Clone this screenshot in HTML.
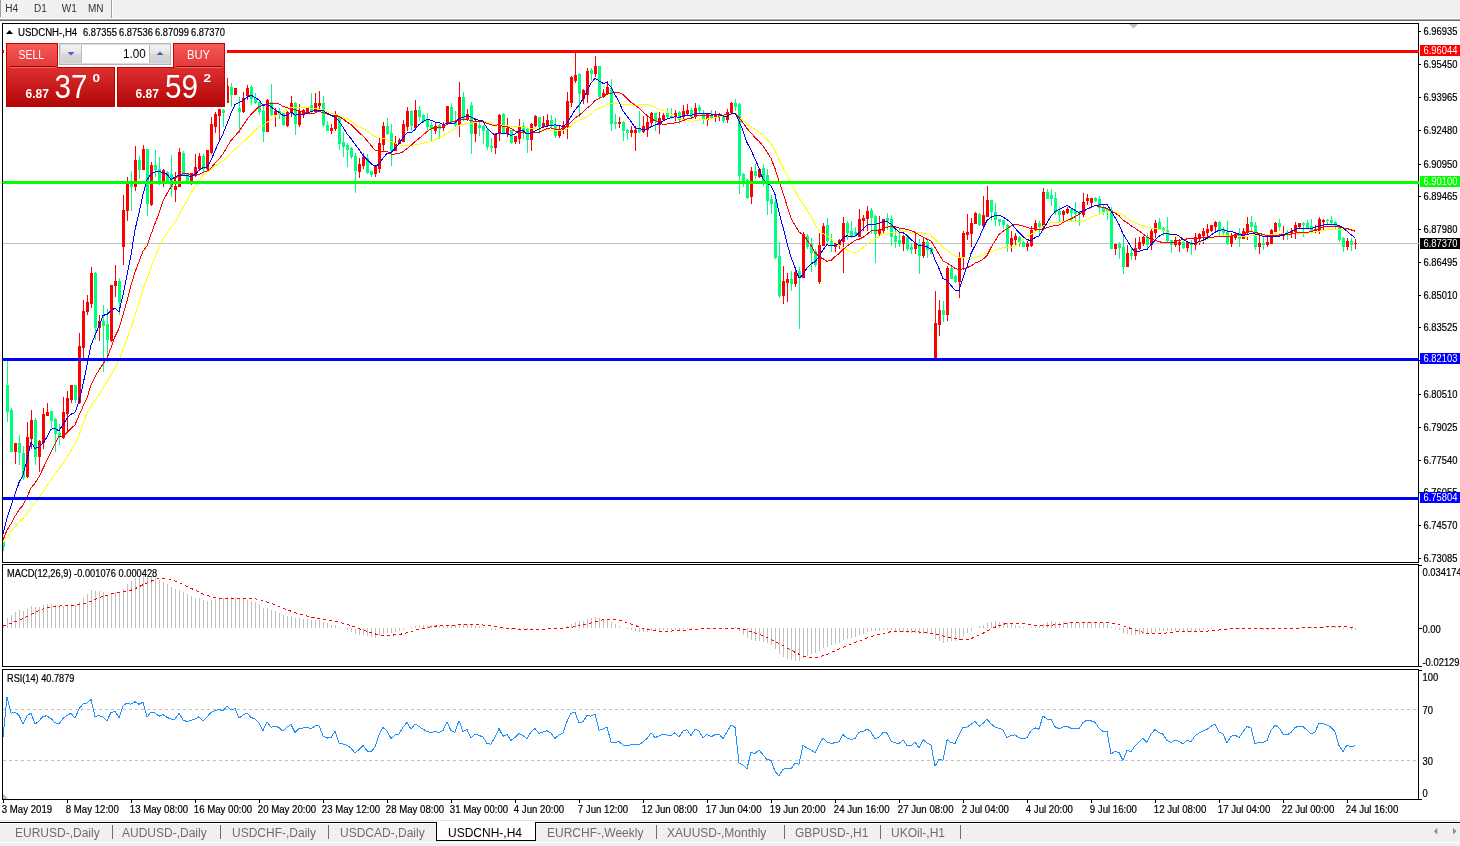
<!DOCTYPE html>
<html><head><meta charset="utf-8"><title>USDCNH-,H4</title>
<style>
*{box-sizing:border-box}
html,body{margin:0;padding:0}
body{width:1460px;height:846px;position:relative;overflow:hidden;background:#fff;font-family:"Liberation Sans",Arial,sans-serif;color:#000}
.abs{position:absolute}
#tb{left:0;top:0;width:1460px;height:18px;background:#f0f0f0}
#tbl1{left:0;top:18px;width:1460px;height:1px;background:#fbfbfb}
#tbl2{left:0;top:19px;width:1460px;height:1px;background:#a8a8a8}
#tbl3{left:0;top:20px;width:1460px;height:1px;background:#6a6a6a}
.tf{top:3px;font-size:10px;line-height:12px;color:#333}
#tabbar{left:0;top:822px;width:1460px;height:24px;background:#f0f0f0}
.tab{top:826px;font-size:12px;line-height:14px;color:#6d6d6d;white-space:nowrap}
.sep{top:825px;width:1px;height:14px;background:#6d6d6d}
</style></head><body>
<svg width="1460" height="846" viewBox="0 0 1460 846" style="position:absolute;left:0;top:0"><rect x="2.5" y="23.5" width="1416" height="539" fill="#fff" stroke="#000"/><rect x="2.5" y="564.5" width="1416" height="102" fill="#fff" stroke="#000"/><rect x="2.5" y="669.5" width="1416" height="130" fill="#fff" stroke="#000"/><defs><clipPath id="cm"><rect x="3" y="24" width="1415" height="538"/></clipPath><clipPath id="cd"><rect x="3" y="565" width="1415" height="101"/></clipPath><clipPath id="cr"><rect x="3" y="670" width="1415" height="129"/></clipPath></defs><g clip-path="url(#cm)" shape-rendering="crispEdges"><rect x="3" y="243" width="1415" height="1" fill="#c0c0c0"/><g fill="#ff0000"><rect x="15" y="443" width="1" height="21"/><rect x="14" y="443" width="3" height="9"/><rect x="27" y="422" width="1" height="56"/><rect x="26" y="437" width="3" height="40"/><rect x="31" y="410" width="1" height="39"/><rect x="30" y="420" width="3" height="19"/><rect x="39" y="440" width="1" height="32"/><rect x="38" y="441" width="3" height="16"/><rect x="43" y="408" width="1" height="41"/><rect x="42" y="414" width="3" height="29"/><rect x="47" y="403" width="1" height="13"/><rect x="46" y="412" width="3" height="4"/><rect x="63" y="397" width="1" height="42"/><rect x="62" y="412" width="3" height="26"/><rect x="67" y="391" width="1" height="41"/><rect x="66" y="398" width="3" height="16"/><rect x="71" y="385" width="1" height="18"/><rect x="70" y="385" width="3" height="15"/><rect x="79" y="333" width="1" height="71"/><rect x="78" y="346" width="3" height="57"/><rect x="83" y="300" width="1" height="59"/><rect x="82" y="311" width="3" height="37"/><rect x="87" y="295" width="1" height="20"/><rect x="86" y="302" width="3" height="10"/><rect x="91" y="267" width="1" height="41"/><rect x="90" y="273" width="3" height="31"/><rect x="99" y="315" width="1" height="26"/><rect x="98" y="321" width="3" height="7"/><rect x="111" y="285" width="1" height="57"/><rect x="110" y="285" width="3" height="56"/><rect x="115" y="265" width="1" height="32"/><rect x="114" y="281" width="3" height="5"/><rect x="123" y="195" width="1" height="70"/><rect x="122" y="210" width="3" height="37"/><rect x="127" y="177" width="1" height="44"/><rect x="126" y="182" width="3" height="29"/><rect x="135" y="146" width="1" height="45"/><rect x="134" y="160" width="3" height="27"/><rect x="143" y="145" width="1" height="25"/><rect x="142" y="149" width="3" height="21"/><rect x="151" y="162" width="1" height="44"/><rect x="150" y="165" width="3" height="40"/><rect x="163" y="169" width="1" height="18"/><rect x="162" y="170" width="3" height="12"/><rect x="175" y="172" width="1" height="30"/><rect x="174" y="186" width="3" height="4"/><rect x="179" y="148" width="1" height="39"/><rect x="178" y="152" width="3" height="35"/><rect x="191" y="173" width="1" height="12"/><rect x="190" y="173" width="3" height="9"/><rect x="195" y="154" width="1" height="23"/><rect x="194" y="167" width="3" height="9"/><rect x="199" y="153" width="1" height="18"/><rect x="198" y="156" width="3" height="13"/><rect x="207" y="150" width="1" height="20"/><rect x="206" y="150" width="3" height="19"/><rect x="211" y="117" width="1" height="37"/><rect x="210" y="124" width="3" height="29"/><rect x="215" y="112" width="1" height="21"/><rect x="214" y="114" width="3" height="13"/><rect x="219" y="109" width="1" height="32"/><rect x="218" y="109" width="3" height="7"/><rect x="227" y="78" width="1" height="25"/><rect x="226" y="86" width="3" height="17"/><rect x="235" y="88" width="1" height="7"/><rect x="234" y="88" width="3" height="7"/><rect x="243" y="92" width="1" height="21"/><rect x="242" y="98" width="3" height="14"/><rect x="247" y="85" width="1" height="15"/><rect x="246" y="88" width="3" height="8"/><rect x="267" y="99" width="1" height="33"/><rect x="266" y="100" width="3" height="32"/><rect x="275" y="108" width="1" height="19"/><rect x="274" y="111" width="3" height="4"/><rect x="287" y="111" width="1" height="16"/><rect x="286" y="112" width="3" height="14"/><rect x="291" y="96" width="1" height="21"/><rect x="290" y="103" width="3" height="10"/><rect x="299" y="104" width="1" height="23"/><rect x="298" y="111" width="3" height="14"/><rect x="303" y="109" width="1" height="9"/><rect x="302" y="110" width="3" height="4"/><rect x="307" y="107" width="1" height="7"/><rect x="306" y="107" width="3" height="7"/><rect x="315" y="93" width="1" height="20"/><rect x="314" y="103" width="3" height="9"/><rect x="319" y="91" width="1" height="20"/><rect x="318" y="103" width="3" height="3"/><rect x="331" y="124" width="1" height="10"/><rect x="330" y="128" width="3" height="3"/><rect x="335" y="111" width="1" height="20"/><rect x="334" y="115" width="3" height="14"/><rect x="359" y="158" width="1" height="20"/><rect x="358" y="164" width="3" height="8"/><rect x="363" y="153" width="1" height="16"/><rect x="362" y="157" width="3" height="9"/><rect x="375" y="166" width="1" height="11"/><rect x="374" y="166" width="3" height="8"/><rect x="379" y="138" width="1" height="35"/><rect x="378" y="143" width="3" height="26"/><rect x="383" y="122" width="1" height="30"/><rect x="382" y="126" width="3" height="19"/><rect x="395" y="136" width="1" height="15"/><rect x="394" y="143" width="3" height="8"/><rect x="399" y="138" width="1" height="7"/><rect x="398" y="140" width="3" height="4"/><rect x="403" y="120" width="1" height="22"/><rect x="402" y="124" width="3" height="18"/><rect x="407" y="107" width="1" height="24"/><rect x="406" y="111" width="3" height="16"/><rect x="415" y="100" width="1" height="29"/><rect x="414" y="110" width="3" height="18"/><rect x="435" y="123" width="1" height="11"/><rect x="434" y="126" width="3" height="5"/><rect x="443" y="122" width="1" height="9"/><rect x="442" y="124" width="3" height="4"/><rect x="447" y="106" width="1" height="19"/><rect x="446" y="106" width="3" height="18"/><rect x="459" y="82" width="1" height="55"/><rect x="458" y="97" width="3" height="28"/><rect x="467" y="109" width="1" height="12"/><rect x="466" y="114" width="3" height="6"/><rect x="475" y="118" width="1" height="24"/><rect x="474" y="123" width="3" height="11"/><rect x="495" y="133" width="1" height="21"/><rect x="494" y="134" width="3" height="14"/><rect x="499" y="114" width="1" height="27"/><rect x="498" y="115" width="3" height="19"/><rect x="507" y="118" width="1" height="19"/><rect x="506" y="128" width="3" height="6"/><rect x="515" y="136" width="1" height="8"/><rect x="514" y="136" width="3" height="6"/><rect x="519" y="119" width="1" height="25"/><rect x="518" y="127" width="3" height="12"/><rect x="531" y="123" width="1" height="28"/><rect x="530" y="124" width="3" height="16"/><rect x="535" y="115" width="1" height="12"/><rect x="534" y="116" width="3" height="10"/><rect x="543" y="116" width="1" height="11"/><rect x="542" y="123" width="3" height="4"/><rect x="547" y="114" width="1" height="13"/><rect x="546" y="120" width="3" height="6"/><rect x="559" y="125" width="1" height="13"/><rect x="558" y="129" width="3" height="7"/><rect x="563" y="121" width="1" height="13"/><rect x="562" y="125" width="3" height="5"/><rect x="567" y="92" width="1" height="47"/><rect x="566" y="101" width="3" height="26"/><rect x="571" y="76" width="1" height="31"/><rect x="570" y="77" width="3" height="26"/><rect x="575" y="52" width="1" height="31"/><rect x="574" y="75" width="3" height="6"/><rect x="583" y="89" width="1" height="15"/><rect x="582" y="90" width="3" height="9"/><rect x="587" y="68" width="1" height="35"/><rect x="586" y="71" width="3" height="24"/><rect x="595" y="56" width="1" height="21"/><rect x="594" y="66" width="3" height="8"/><rect x="603" y="89" width="1" height="9"/><rect x="602" y="93" width="3" height="4"/><rect x="607" y="81" width="1" height="14"/><rect x="606" y="87" width="3" height="7"/><rect x="619" y="117" width="1" height="11"/><rect x="618" y="122" width="3" height="2"/><rect x="631" y="126" width="1" height="11"/><rect x="630" y="130" width="3" height="3"/><rect x="635" y="126" width="1" height="25"/><rect x="634" y="130" width="3" height="3"/><rect x="643" y="116" width="1" height="17"/><rect x="642" y="126" width="3" height="6"/><rect x="647" y="117" width="1" height="20"/><rect x="646" y="122" width="3" height="8"/><rect x="651" y="112" width="1" height="15"/><rect x="650" y="113" width="3" height="10"/><rect x="659" y="112" width="1" height="22"/><rect x="658" y="118" width="3" height="7"/><rect x="663" y="113" width="1" height="8"/><rect x="662" y="115" width="3" height="5"/><rect x="675" y="110" width="1" height="11"/><rect x="674" y="113" width="3" height="4"/><rect x="683" y="105" width="1" height="14"/><rect x="682" y="111" width="3" height="6"/><rect x="687" y="104" width="1" height="12"/><rect x="686" y="110" width="3" height="4"/><rect x="695" y="103" width="1" height="16"/><rect x="694" y="108" width="3" height="9"/><rect x="707" y="113" width="1" height="13"/><rect x="706" y="114" width="3" height="6"/><rect x="715" y="111" width="1" height="11"/><rect x="714" y="115" width="3" height="3"/><rect x="719" y="113" width="1" height="8"/><rect x="718" y="114" width="3" height="3"/><rect x="727" y="109" width="1" height="14"/><rect x="726" y="112" width="3" height="8"/><rect x="731" y="102" width="1" height="12"/><rect x="730" y="103" width="3" height="10"/><rect x="751" y="167" width="1" height="37"/><rect x="750" y="171" width="3" height="26"/><rect x="759" y="168" width="1" height="10"/><rect x="758" y="169" width="3" height="8"/><rect x="783" y="266" width="1" height="38"/><rect x="782" y="281" width="3" height="15"/><rect x="787" y="273" width="1" height="29"/><rect x="786" y="279" width="3" height="4"/><rect x="795" y="269" width="1" height="18"/><rect x="794" y="272" width="3" height="12"/><rect x="803" y="232" width="1" height="46"/><rect x="802" y="234" width="3" height="44"/><rect x="819" y="233" width="1" height="51"/><rect x="818" y="245" width="3" height="37"/><rect x="823" y="223" width="1" height="23"/><rect x="822" y="226" width="3" height="20"/><rect x="835" y="242" width="1" height="10"/><rect x="834" y="243" width="3" height="4"/><rect x="839" y="239" width="1" height="10"/><rect x="838" y="240" width="3" height="5"/><rect x="843" y="217" width="1" height="56"/><rect x="842" y="223" width="3" height="19"/><rect x="859" y="209" width="1" height="28"/><rect x="858" y="219" width="3" height="18"/><rect x="863" y="215" width="1" height="16"/><rect x="862" y="218" width="3" height="3"/><rect x="867" y="206" width="1" height="25"/><rect x="866" y="211" width="3" height="8"/><rect x="879" y="216" width="1" height="21"/><rect x="878" y="229" width="3" height="5"/><rect x="883" y="219" width="1" height="15"/><rect x="882" y="219" width="3" height="12"/><rect x="903" y="235" width="1" height="16"/><rect x="902" y="236" width="3" height="8"/><rect x="915" y="233" width="1" height="21"/><rect x="914" y="243" width="3" height="6"/><rect x="923" y="237" width="1" height="21"/><rect x="922" y="242" width="3" height="14"/><rect x="935" y="291" width="1" height="68"/><rect x="934" y="323" width="3" height="36"/><rect x="939" y="300" width="1" height="36"/><rect x="938" y="310" width="3" height="15"/><rect x="947" y="266" width="1" height="55"/><rect x="946" y="268" width="3" height="47"/><rect x="959" y="252" width="1" height="46"/><rect x="958" y="258" width="3" height="24"/><rect x="963" y="231" width="1" height="39"/><rect x="962" y="233" width="3" height="24"/><rect x="967" y="214" width="1" height="26"/><rect x="966" y="232" width="3" height="3"/><rect x="971" y="218" width="1" height="29"/><rect x="970" y="223" width="3" height="11"/><rect x="975" y="212" width="1" height="12"/><rect x="974" y="213" width="3" height="11"/><rect x="983" y="196" width="1" height="31"/><rect x="982" y="215" width="3" height="11"/><rect x="987" y="186" width="1" height="31"/><rect x="986" y="200" width="3" height="17"/><rect x="1011" y="231" width="1" height="21"/><rect x="1010" y="238" width="3" height="7"/><rect x="1015" y="233" width="1" height="12"/><rect x="1014" y="236" width="3" height="4"/><rect x="1027" y="241" width="1" height="10"/><rect x="1026" y="243" width="3" height="4"/><rect x="1031" y="226" width="1" height="21"/><rect x="1030" y="230" width="3" height="16"/><rect x="1035" y="220" width="1" height="11"/><rect x="1034" y="223" width="3" height="7"/><rect x="1043" y="188" width="1" height="41"/><rect x="1042" y="192" width="3" height="34"/><rect x="1063" y="210" width="1" height="12"/><rect x="1062" y="211" width="3" height="4"/><rect x="1067" y="207" width="1" height="7"/><rect x="1066" y="209" width="3" height="4"/><rect x="1083" y="193" width="1" height="24"/><rect x="1082" y="202" width="3" height="13"/><rect x="1087" y="194" width="1" height="11"/><rect x="1086" y="198" width="3" height="3"/><rect x="1091" y="198" width="1" height="9"/><rect x="1090" y="198" width="3" height="5"/><rect x="1115" y="244" width="1" height="11"/><rect x="1114" y="244" width="3" height="5"/><rect x="1127" y="245" width="1" height="22"/><rect x="1126" y="253" width="3" height="14"/><rect x="1135" y="238" width="1" height="22"/><rect x="1134" y="248" width="3" height="8"/><rect x="1139" y="237" width="1" height="13"/><rect x="1138" y="242" width="3" height="7"/><rect x="1143" y="236" width="1" height="10"/><rect x="1142" y="237" width="3" height="7"/><rect x="1151" y="229" width="1" height="21"/><rect x="1150" y="231" width="3" height="14"/><rect x="1155" y="220" width="1" height="18"/><rect x="1154" y="223" width="3" height="10"/><rect x="1175" y="236" width="1" height="11"/><rect x="1174" y="240" width="3" height="5"/><rect x="1179" y="239" width="1" height="13"/><rect x="1178" y="242" width="3" height="3"/><rect x="1187" y="242" width="1" height="10"/><rect x="1186" y="242" width="3" height="6"/><rect x="1195" y="233" width="1" height="17"/><rect x="1194" y="237" width="3" height="8"/><rect x="1199" y="233" width="1" height="12"/><rect x="1198" y="234" width="3" height="5"/><rect x="1203" y="228" width="1" height="16"/><rect x="1202" y="231" width="3" height="5"/><rect x="1207" y="224" width="1" height="14"/><rect x="1206" y="229" width="3" height="4"/><rect x="1211" y="225" width="1" height="7"/><rect x="1210" y="225" width="3" height="6"/><rect x="1215" y="221" width="1" height="11"/><rect x="1214" y="222" width="3" height="5"/><rect x="1231" y="233" width="1" height="14"/><rect x="1230" y="236" width="3" height="8"/><rect x="1235" y="233" width="1" height="7"/><rect x="1234" y="234" width="3" height="4"/><rect x="1243" y="228" width="1" height="11"/><rect x="1242" y="231" width="3" height="8"/><rect x="1247" y="217" width="1" height="23"/><rect x="1246" y="224" width="3" height="9"/><rect x="1259" y="233" width="1" height="21"/><rect x="1258" y="243" width="3" height="4"/><rect x="1267" y="237" width="1" height="10"/><rect x="1266" y="242" width="3" height="3"/><rect x="1271" y="229" width="1" height="15"/><rect x="1270" y="230" width="3" height="14"/><rect x="1275" y="222" width="1" height="10"/><rect x="1274" y="223" width="3" height="9"/><rect x="1283" y="226" width="1" height="14"/><rect x="1282" y="233" width="3" height="3"/><rect x="1291" y="228" width="1" height="10"/><rect x="1290" y="231" width="3" height="2"/><rect x="1295" y="222" width="1" height="17"/><rect x="1294" y="225" width="3" height="7"/><rect x="1299" y="223" width="1" height="6"/><rect x="1298" y="223" width="3" height="4"/><rect x="1315" y="225" width="1" height="8"/><rect x="1314" y="229" width="3" height="2"/><rect x="1319" y="217" width="1" height="17"/><rect x="1318" y="219" width="3" height="12"/><rect x="1323" y="219" width="1" height="11"/><rect x="1322" y="220" width="3" height="2"/><rect x="1347" y="238" width="1" height="12"/><rect x="1346" y="241" width="3" height="6"/><rect x="1355" y="239" width="1" height="10"/><rect x="1354" y="243" width="3" height="1"/></g><g fill="#00ff7f"><rect x="3" y="542" width="1" height="9"/><rect x="2" y="542" width="3" height="5"/><rect x="7" y="360" width="1" height="62"/><rect x="6" y="385" width="3" height="27"/><rect x="11" y="408" width="1" height="44"/><rect x="10" y="410" width="3" height="42"/><rect x="19" y="435" width="1" height="30"/><rect x="18" y="443" width="3" height="10"/><rect x="23" y="446" width="1" height="34"/><rect x="22" y="453" width="3" height="25"/><rect x="35" y="418" width="1" height="47"/><rect x="34" y="420" width="3" height="37"/><rect x="51" y="411" width="1" height="17"/><rect x="50" y="411" width="3" height="10"/><rect x="55" y="418" width="1" height="34"/><rect x="54" y="419" width="3" height="15"/><rect x="59" y="424" width="1" height="21"/><rect x="58" y="433" width="3" height="4"/><rect x="75" y="385" width="1" height="18"/><rect x="74" y="385" width="3" height="15"/><rect x="95" y="272" width="1" height="68"/><rect x="94" y="273" width="3" height="55"/><rect x="103" y="305" width="1" height="67"/><rect x="102" y="321" width="3" height="5"/><rect x="107" y="309" width="1" height="53"/><rect x="106" y="324" width="3" height="16"/><rect x="119" y="278" width="1" height="37"/><rect x="118" y="281" width="3" height="21"/><rect x="131" y="171" width="1" height="40"/><rect x="130" y="181" width="3" height="6"/><rect x="139" y="156" width="1" height="23"/><rect x="138" y="160" width="3" height="10"/><rect x="147" y="149" width="1" height="67"/><rect x="146" y="149" width="3" height="55"/><rect x="155" y="150" width="1" height="27"/><rect x="154" y="165" width="3" height="5"/><rect x="159" y="157" width="1" height="28"/><rect x="158" y="169" width="3" height="13"/><rect x="167" y="171" width="1" height="13"/><rect x="166" y="172" width="3" height="9"/><rect x="171" y="155" width="1" height="42"/><rect x="170" y="174" width="3" height="13"/><rect x="183" y="151" width="1" height="25"/><rect x="182" y="153" width="3" height="22"/><rect x="187" y="173" width="1" height="9"/><rect x="186" y="173" width="3" height="8"/><rect x="203" y="154" width="1" height="18"/><rect x="202" y="156" width="3" height="13"/><rect x="223" y="109" width="1" height="18"/><rect x="222" y="110" width="3" height="3"/><rect x="231" y="83" width="1" height="24"/><rect x="230" y="87" width="3" height="8"/><rect x="239" y="97" width="1" height="36"/><rect x="238" y="108" width="3" height="4"/><rect x="251" y="85" width="1" height="20"/><rect x="250" y="87" width="3" height="12"/><rect x="255" y="93" width="1" height="11"/><rect x="254" y="98" width="3" height="5"/><rect x="259" y="101" width="1" height="14"/><rect x="258" y="102" width="3" height="10"/><rect x="263" y="104" width="1" height="38"/><rect x="262" y="111" width="3" height="21"/><rect x="271" y="84" width="1" height="32"/><rect x="270" y="102" width="3" height="13"/><rect x="279" y="108" width="1" height="11"/><rect x="278" y="111" width="3" height="4"/><rect x="283" y="112" width="1" height="14"/><rect x="282" y="113" width="3" height="12"/><rect x="295" y="102" width="1" height="33"/><rect x="294" y="103" width="3" height="21"/><rect x="311" y="93" width="1" height="20"/><rect x="310" y="105" width="3" height="7"/><rect x="323" y="96" width="1" height="31"/><rect x="322" y="103" width="3" height="22"/><rect x="327" y="121" width="1" height="10"/><rect x="326" y="125" width="3" height="6"/><rect x="339" y="116" width="1" height="34"/><rect x="338" y="116" width="3" height="28"/><rect x="343" y="132" width="1" height="25"/><rect x="342" y="142" width="3" height="5"/><rect x="347" y="143" width="1" height="24"/><rect x="346" y="145" width="3" height="5"/><rect x="351" y="147" width="1" height="12"/><rect x="350" y="148" width="3" height="9"/><rect x="355" y="153" width="1" height="40"/><rect x="354" y="156" width="3" height="15"/><rect x="367" y="154" width="1" height="20"/><rect x="366" y="158" width="3" height="15"/><rect x="371" y="171" width="1" height="6"/><rect x="370" y="171" width="3" height="4"/><rect x="387" y="118" width="1" height="17"/><rect x="386" y="126" width="3" height="8"/><rect x="391" y="124" width="1" height="42"/><rect x="390" y="133" width="3" height="18"/><rect x="411" y="110" width="1" height="21"/><rect x="410" y="111" width="3" height="15"/><rect x="419" y="106" width="1" height="15"/><rect x="418" y="110" width="3" height="7"/><rect x="423" y="114" width="1" height="9"/><rect x="422" y="115" width="3" height="7"/><rect x="427" y="113" width="1" height="18"/><rect x="426" y="120" width="3" height="7"/><rect x="431" y="122" width="1" height="19"/><rect x="430" y="125" width="3" height="4"/><rect x="439" y="124" width="1" height="15"/><rect x="438" y="125" width="3" height="4"/><rect x="451" y="103" width="1" height="21"/><rect x="450" y="107" width="3" height="15"/><rect x="455" y="111" width="1" height="16"/><rect x="454" y="121" width="3" height="4"/><rect x="463" y="92" width="1" height="29"/><rect x="462" y="97" width="3" height="23"/><rect x="471" y="102" width="1" height="52"/><rect x="470" y="105" width="3" height="29"/><rect x="479" y="122" width="1" height="14"/><rect x="478" y="125" width="3" height="3"/><rect x="483" y="125" width="1" height="19"/><rect x="482" y="126" width="3" height="5"/><rect x="487" y="129" width="1" height="21"/><rect x="486" y="130" width="3" height="17"/><rect x="491" y="138" width="1" height="14"/><rect x="490" y="146" width="3" height="2"/><rect x="503" y="113" width="1" height="21"/><rect x="502" y="114" width="3" height="19"/><rect x="511" y="130" width="1" height="14"/><rect x="510" y="130" width="3" height="13"/><rect x="523" y="122" width="1" height="17"/><rect x="522" y="126" width="3" height="6"/><rect x="527" y="128" width="1" height="25"/><rect x="526" y="129" width="3" height="11"/><rect x="539" y="117" width="1" height="17"/><rect x="538" y="117" width="3" height="10"/><rect x="551" y="115" width="1" height="13"/><rect x="550" y="120" width="3" height="6"/><rect x="555" y="118" width="1" height="20"/><rect x="554" y="125" width="3" height="11"/><rect x="579" y="73" width="1" height="44"/><rect x="578" y="74" width="3" height="20"/><rect x="591" y="68" width="1" height="13"/><rect x="590" y="70" width="3" height="4"/><rect x="599" y="66" width="1" height="32"/><rect x="598" y="66" width="3" height="31"/><rect x="611" y="79" width="1" height="52"/><rect x="610" y="88" width="3" height="36"/><rect x="615" y="114" width="1" height="15"/><rect x="614" y="122" width="3" height="2"/><rect x="623" y="121" width="1" height="20"/><rect x="622" y="122" width="3" height="9"/><rect x="627" y="129" width="1" height="11"/><rect x="626" y="130" width="3" height="3"/><rect x="639" y="111" width="1" height="22"/><rect x="638" y="129" width="3" height="3"/><rect x="655" y="113" width="1" height="18"/><rect x="654" y="113" width="3" height="8"/><rect x="667" y="108" width="1" height="11"/><rect x="666" y="113" width="3" height="4"/><rect x="671" y="108" width="1" height="11"/><rect x="670" y="116" width="3" height="2"/><rect x="679" y="111" width="1" height="13"/><rect x="678" y="112" width="3" height="8"/><rect x="691" y="108" width="1" height="11"/><rect x="690" y="110" width="3" height="7"/><rect x="699" y="105" width="1" height="8"/><rect x="698" y="107" width="3" height="4"/><rect x="703" y="110" width="1" height="14"/><rect x="702" y="113" width="3" height="7"/><rect x="711" y="110" width="1" height="9"/><rect x="710" y="115" width="3" height="3"/><rect x="723" y="115" width="1" height="8"/><rect x="722" y="116" width="3" height="5"/><rect x="735" y="99" width="1" height="12"/><rect x="734" y="103" width="3" height="4"/><rect x="739" y="103" width="1" height="91"/><rect x="738" y="104" width="3" height="72"/><rect x="743" y="173" width="1" height="14"/><rect x="742" y="174" width="3" height="9"/><rect x="747" y="179" width="1" height="20"/><rect x="746" y="180" width="3" height="18"/><rect x="755" y="164" width="1" height="15"/><rect x="754" y="171" width="3" height="5"/><rect x="763" y="164" width="1" height="22"/><rect x="762" y="168" width="3" height="16"/><rect x="767" y="169" width="1" height="46"/><rect x="766" y="175" width="3" height="26"/><rect x="771" y="195" width="1" height="19"/><rect x="770" y="199" width="3" height="5"/><rect x="775" y="197" width="1" height="62"/><rect x="774" y="202" width="3" height="56"/><rect x="779" y="242" width="1" height="56"/><rect x="778" y="256" width="3" height="40"/><rect x="791" y="271" width="1" height="20"/><rect x="790" y="279" width="3" height="5"/><rect x="799" y="267" width="1" height="62"/><rect x="798" y="271" width="3" height="7"/><rect x="807" y="234" width="1" height="15"/><rect x="806" y="236" width="3" height="11"/><rect x="811" y="238" width="1" height="34"/><rect x="810" y="244" width="3" height="9"/><rect x="815" y="249" width="1" height="18"/><rect x="814" y="251" width="3" height="14"/><rect x="827" y="218" width="1" height="27"/><rect x="826" y="225" width="3" height="16"/><rect x="831" y="234" width="1" height="18"/><rect x="830" y="241" width="3" height="4"/><rect x="847" y="221" width="1" height="19"/><rect x="846" y="223" width="3" height="10"/><rect x="851" y="221" width="1" height="17"/><rect x="850" y="231" width="3" height="5"/><rect x="855" y="227" width="1" height="10"/><rect x="854" y="232" width="3" height="3"/><rect x="871" y="208" width="1" height="26"/><rect x="870" y="210" width="3" height="8"/><rect x="875" y="215" width="1" height="48"/><rect x="874" y="216" width="3" height="18"/><rect x="887" y="213" width="1" height="17"/><rect x="886" y="218" width="3" height="3"/><rect x="891" y="215" width="1" height="31"/><rect x="890" y="219" width="3" height="18"/><rect x="895" y="227" width="1" height="21"/><rect x="894" y="236" width="3" height="6"/><rect x="899" y="229" width="1" height="18"/><rect x="898" y="240" width="3" height="4"/><rect x="907" y="236" width="1" height="15"/><rect x="906" y="237" width="3" height="12"/><rect x="911" y="243" width="1" height="11"/><rect x="910" y="247" width="3" height="3"/><rect x="919" y="239" width="1" height="35"/><rect x="918" y="244" width="3" height="12"/><rect x="927" y="239" width="1" height="19"/><rect x="926" y="242" width="3" height="8"/><rect x="931" y="247" width="1" height="7"/><rect x="930" y="248" width="3" height="6"/><rect x="943" y="301" width="1" height="21"/><rect x="942" y="310" width="3" height="5"/><rect x="951" y="265" width="1" height="14"/><rect x="950" y="268" width="3" height="11"/><rect x="955" y="275" width="1" height="8"/><rect x="954" y="276" width="3" height="6"/><rect x="979" y="213" width="1" height="13"/><rect x="978" y="214" width="3" height="11"/><rect x="991" y="200" width="1" height="21"/><rect x="990" y="200" width="3" height="12"/><rect x="995" y="203" width="1" height="23"/><rect x="994" y="212" width="3" height="8"/><rect x="999" y="219" width="1" height="7"/><rect x="998" y="219" width="3" height="3"/><rect x="1003" y="220" width="1" height="9"/><rect x="1002" y="220" width="3" height="5"/><rect x="1007" y="224" width="1" height="28"/><rect x="1006" y="225" width="3" height="19"/><rect x="1019" y="236" width="1" height="11"/><rect x="1018" y="237" width="3" height="7"/><rect x="1023" y="241" width="1" height="6"/><rect x="1022" y="242" width="3" height="5"/><rect x="1039" y="221" width="1" height="14"/><rect x="1038" y="223" width="3" height="4"/><rect x="1047" y="189" width="1" height="10"/><rect x="1046" y="192" width="3" height="7"/><rect x="1051" y="189" width="1" height="17"/><rect x="1050" y="195" width="3" height="4"/><rect x="1055" y="192" width="1" height="23"/><rect x="1054" y="198" width="3" height="14"/><rect x="1059" y="207" width="1" height="16"/><rect x="1058" y="211" width="3" height="4"/><rect x="1071" y="208" width="1" height="14"/><rect x="1070" y="209" width="3" height="4"/><rect x="1075" y="202" width="1" height="20"/><rect x="1074" y="211" width="3" height="3"/><rect x="1079" y="211" width="1" height="15"/><rect x="1078" y="212" width="3" height="2"/><rect x="1095" y="197" width="1" height="5"/><rect x="1094" y="198" width="3" height="3"/><rect x="1099" y="196" width="1" height="18"/><rect x="1098" y="199" width="3" height="9"/><rect x="1103" y="205" width="1" height="10"/><rect x="1102" y="207" width="3" height="5"/><rect x="1107" y="208" width="1" height="12"/><rect x="1106" y="209" width="3" height="3"/><rect x="1111" y="207" width="1" height="42"/><rect x="1110" y="210" width="3" height="39"/><rect x="1119" y="242" width="1" height="17"/><rect x="1118" y="244" width="3" height="4"/><rect x="1123" y="236" width="1" height="38"/><rect x="1122" y="247" width="3" height="20"/><rect x="1131" y="247" width="1" height="13"/><rect x="1130" y="253" width="3" height="3"/><rect x="1147" y="233" width="1" height="16"/><rect x="1146" y="237" width="3" height="8"/><rect x="1159" y="218" width="1" height="12"/><rect x="1158" y="222" width="3" height="7"/><rect x="1163" y="227" width="1" height="9"/><rect x="1162" y="228" width="3" height="3"/><rect x="1167" y="217" width="1" height="25"/><rect x="1166" y="230" width="3" height="11"/><rect x="1171" y="240" width="1" height="13"/><rect x="1170" y="240" width="3" height="5"/><rect x="1183" y="240" width="1" height="9"/><rect x="1182" y="242" width="3" height="6"/><rect x="1191" y="240" width="1" height="15"/><rect x="1190" y="242" width="3" height="3"/><rect x="1219" y="221" width="1" height="15"/><rect x="1218" y="222" width="3" height="9"/><rect x="1223" y="227" width="1" height="8"/><rect x="1222" y="229" width="3" height="4"/><rect x="1227" y="221" width="1" height="24"/><rect x="1226" y="232" width="3" height="12"/><rect x="1239" y="228" width="1" height="19"/><rect x="1238" y="233" width="3" height="6"/><rect x="1251" y="216" width="1" height="15"/><rect x="1250" y="222" width="3" height="5"/><rect x="1255" y="222" width="1" height="28"/><rect x="1254" y="225" width="3" height="22"/><rect x="1263" y="236" width="1" height="14"/><rect x="1262" y="243" width="3" height="2"/><rect x="1279" y="219" width="1" height="12"/><rect x="1278" y="223" width="3" height="4"/><rect x="1287" y="230" width="1" height="10"/><rect x="1286" y="232" width="3" height="3"/><rect x="1303" y="222" width="1" height="15"/><rect x="1302" y="223" width="3" height="2"/><rect x="1307" y="220" width="1" height="9"/><rect x="1306" y="223" width="3" height="5"/><rect x="1311" y="219" width="1" height="12"/><rect x="1310" y="226" width="3" height="5"/><rect x="1327" y="219" width="1" height="5"/><rect x="1326" y="220" width="3" height="1"/><rect x="1331" y="216" width="1" height="11"/><rect x="1330" y="220" width="3" height="3"/><rect x="1335" y="221" width="1" height="9"/><rect x="1334" y="222" width="3" height="5"/><rect x="1339" y="226" width="1" height="16"/><rect x="1338" y="227" width="3" height="13"/><rect x="1343" y="237" width="1" height="15"/><rect x="1342" y="238" width="3" height="9"/><rect x="1351" y="238" width="1" height="13"/><rect x="1350" y="241" width="3" height="4"/></g></g><g clip-path="url(#cm)" fill="none" stroke-width="1" shape-rendering="crispEdges"><polyline points="3,543.3 7,536.7 11,531.8 15,526.7 19,522.2 23,518.7 27,513.2 31,507.3 35,502.9 39,498.2 43,491.8 47,485.6 51,479.9 55,474.3 59,469 63,463.7 67,457.3 71,450.5 75,444.1 79,435.2 83,424.3 87,412.7 91,406.1 95,400.2 99,394.4 103,388.3 107,381.8 111,374.5 115,367.9 119,360.5 123,349.5 127,338.5 131,327.7 135,315.3 139,302.7 143,289.1 147,279.1 151,268 155,257.7 159,247.3 163,238.9 167,232.7 171,227.2 175,223 179,214.7 183,207.7 187,200.8 191,192.9 195,187.2 199,181.3 203,175 207,172.1 211,169.3 215,165.9 219,163.5 223,160.8 227,157.8 231,152.7 235,149 239,146.3 243,142.3 247,138.4 251,134.5 255,130.5 259,126.9 263,125.9 267,122.4 271,119.3 275,116.3 279,113.8 283,112.3 287,109.6 291,107.4 295,107.4 299,107.2 303,107.3 307,107 311,108.2 315,108.6 319,109.3 323,110 327,111.5 331,113.4 335,114.2 339,116.2 343,117.8 347,118.7 351,121.4 355,124 359,126.6 363,128.6 367,130.9 371,133.8 375,136.8 379,137.8 383,138.5 387,139.5 391,141.6 395,143.1 399,144.8 403,145.8 407,145.2 411,145 415,144.2 419,144.2 423,143.2 427,142.3 431,141.3 435,139.8 439,137.8 443,135.9 447,133.5 451,131.1 455,128.7 459,125.4 463,124.2 467,123.7 471,123.7 475,122.4 479,121.7 483,121.2 487,122.3 491,124 495,124.4 499,124.7 503,125.4 507,125.8 511,126.5 515,126.9 519,126.9 523,127.1 527,127.8 531,128.6 535,128.4 539,128.5 543,129.7 547,129.8 551,130.3 555,130.4 559,130.6 563,130.5 567,129.1 571,125.8 575,122.4 579,120.4 583,119.2 587,116.3 591,113.7 595,110.1 599,108.2 603,106.5 607,104.4 611,103.7 615,103.6 619,103.9 623,104.1 627,104.5 631,105 635,105.2 639,105 643,104.9 647,104.7 651,105.3 655,107.3 659,109.4 663,110.5 667,111.7 671,113.9 675,115.9 679,118.4 683,119.1 687,119.9 691,121.3 695,120.6 699,120 703,119.9 707,119.1 711,118.4 715,117.7 719,117 723,116.4 727,115.7 731,114.9 735,114.5 739,117.1 743,120.2 747,124.1 751,126.7 755,129.4 759,132.1 763,135.1 767,139.4 771,143.8 775,150.5 779,159.4 783,167.5 787,175.1 791,183.2 795,190.5 799,198.2 803,203.9 807,210 811,216.7 815,224.3 819,231 823,233.4 827,236.2 831,238.4 835,241.8 839,244.9 843,247.5 847,249.8 851,251.5 855,253 859,251.1 863,247.5 867,244.2 871,241.2 875,238.8 879,236.8 883,234 887,233.3 891,232.9 895,232.4 899,231.3 903,230.9 907,231.9 911,232.4 915,232.4 919,232.9 923,233 927,234.3 931,235.3 935,239.5 939,243.1 943,247.7 947,250 951,253.2 955,256.2 959,257.4 963,257.6 967,258.2 971,258.4 975,257.2 979,256.4 983,255.1 987,253.4 991,251.6 995,250.2 999,249.1 1003,247.7 1007,247.7 1011,247.2 1015,246.4 1019,242.6 1023,239.5 1027,236.2 1031,234.3 1035,231.8 1039,229.1 1043,226 1047,224.3 1051,222.7 1055,222.2 1059,222.3 1063,221.6 1067,221.3 1071,221.9 1075,222 1079,221.7 1083,220.8 1087,219.6 1091,217.4 1095,215.6 1099,214.2 1103,212.7 1107,211 1111,211.2 1115,211.9 1119,213 1123,214.9 1127,217.8 1131,220.6 1135,222.9 1139,224.4 1143,225.4 1147,227 1151,228 1155,228.5 1159,229.2 1163,230 1167,231.9 1171,234.1 1175,236.1 1179,238.1 1183,240 1187,241.5 1191,243.1 1195,242.6 1199,242.1 1203,241.3 1207,239.6 1211,238.3 1215,236.7 1219,235.9 1223,235.4 1227,235.7 1231,235.4 1235,235.5 1239,236.2 1243,236.4 1247,236.1 1251,235.4 1255,235.5 1259,235.6 1263,235.7 1267,235.5 1271,234.9 1275,233.8 1279,233.3 1283,233.2 1287,233.4 1291,233.5 1295,233.5 1299,233.5 1303,233.2 1307,233 1311,232.4 1315,232 1319,231.3 1323,230.4 1327,229.9 1331,229.8 1335,229.8 1339,229.5 1343,229.7 1347,229.6 1351,229.6 1355,230.2" stroke="#ffff00"/><polyline points="3,539.9 7,530.1 11,523.8 15,516.3 19,509.8 23,505.2 27,497.1 31,488.1 35,483.2 39,476.7 43,468.6 47,459.9 51,451.9 55,444.3 59,436.4 63,436.5 67,432.7 71,428.6 75,424.8 79,415.4 83,406.4 87,398 91,384.9 95,376.7 99,370.1 103,363.9 107,358.1 111,347.6 115,336.5 119,328.5 123,315.1 127,300.6 131,285.4 135,272.1 139,261.9 143,251 147,246 151,234.4 155,223.6 159,213.3 163,201.2 167,193.6 171,186.9 175,178.6 179,174.5 183,173.9 187,173.5 191,174.5 195,174.3 199,174.8 203,172.3 207,171.2 211,168.1 215,163.3 219,159 223,154.1 227,147 231,140.5 235,136 239,131.4 243,125.6 247,119.4 251,114.5 255,110.7 259,106.6 263,105.2 267,103.5 271,103.5 275,103.6 279,103.8 283,106.5 287,107.7 291,108.8 295,109.7 299,110.7 303,112.3 307,112.9 311,113.6 315,113.1 319,111.1 323,112.8 327,113.9 331,115.1 335,115.1 339,116.5 343,118.9 347,122.1 351,124.5 355,128.7 359,132.5 363,136.1 367,140.4 371,145.5 375,150 379,151.4 383,151.1 387,151.5 391,154 395,154 399,153.6 403,151.8 407,148.6 411,145.4 415,141.5 419,138.6 423,135 427,131.6 431,128.8 435,127.5 439,127.7 443,127.1 447,124 451,122.4 455,121.3 459,119.4 463,119.9 467,119.1 471,120.8 475,121.3 479,121.8 483,122 487,123.4 491,124.9 495,125.3 499,124.7 503,126.5 507,127 511,128.3 515,131 519,131.6 523,132.8 527,133.2 531,133.2 535,132.4 539,132.2 543,130.5 547,128.6 551,127.9 555,129.4 559,129.1 563,128.9 567,126 571,121.8 575,118.1 579,115.4 583,111.9 587,108.1 591,105 595,100.6 599,98.7 603,96.7 607,94 611,93.1 615,92.7 619,92.5 623,94.6 627,98.5 631,102.4 635,105.1 639,108 643,112 647,115.5 651,118.9 655,120.6 659,122.4 663,124.4 667,124 671,123.5 675,122.9 679,122.1 683,120.6 687,119.1 691,118.2 695,116.6 699,115.4 703,115.2 707,115.3 711,115.1 715,114.9 719,114.8 723,115.1 727,114.7 731,114 735,113 739,117.6 743,122.7 747,128.5 751,133 755,137.6 759,141.2 763,146.1 767,152 771,158.3 775,168.5 779,181 783,193.1 787,205.6 791,218.3 795,225.2 799,232 803,234.6 807,240 811,245.5 815,252.4 819,256.8 823,258.7 827,261.3 831,260.4 835,256.7 839,253.7 843,249.7 847,246.1 851,243.4 855,240.4 859,239.3 863,237.3 867,234.3 871,231 875,230.1 879,230.3 883,228.8 887,227.1 891,226.6 895,226.7 899,228.1 903,228.4 907,229.4 911,230.4 915,232.2 919,234.8 923,237.1 927,239.3 931,240.8 935,247.5 939,254 943,260.8 947,263 951,265.6 955,268.3 959,269.8 963,268.8 967,267.6 971,266.1 975,263.1 979,261.8 983,259.3 987,255.6 991,247.6 995,241.1 999,234.4 1003,231.3 1007,228.8 1011,225.8 1015,224.3 1019,225 1023,226 1027,227.5 1031,228.7 1035,228.6 1039,229.4 1043,228.8 1047,227.8 1051,226.4 1055,225.7 1059,225 1063,222.6 1067,220.6 1071,218.8 1075,216.7 1079,214.3 1083,211.4 1087,209.1 1091,207.3 1095,205.5 1099,206.5 1103,207.5 1107,208.3 1111,211 1115,213.1 1119,215.7 1123,219.8 1127,222.7 1131,225.7 1135,228.2 1139,231 1143,233.8 1147,237 1151,239.2 1155,240.3 1159,241.5 1163,242.9 1167,242.4 1171,242.3 1175,241.9 1179,240.2 1183,239.8 1187,238.9 1191,238.6 1195,238.3 1199,238.1 1203,237.2 1207,237.1 1211,237.3 1215,236.9 1219,236.9 1223,236.3 1227,236.3 1231,236 1235,235.4 1239,234.7 1243,233.9 1247,232.5 1251,231.6 1255,232.5 1259,233.3 1263,234.4 1267,235.6 1271,236.1 1275,235.6 1279,235.1 1283,234.4 1287,234.2 1291,234 1295,233.1 1299,232.6 1303,232.6 1307,232.6 1311,231.6 1315,230.5 1319,228.8 1323,227.2 1327,226.5 1331,226.5 1335,226.5 1339,226.9 1343,227.8 1347,228.5 1351,229.8 1355,231.2" stroke="#ff0000"/><polyline points="3,534.2 7,518 11,506.4 15,494.2 19,482.6 23,474.8 27,460.1 31,442.1 35,448.4 39,447.1 43,442.9 47,437.2 51,429.1 55,428.5 59,430.8 63,424.5 67,418.3 71,414.2 75,412.4 79,401.8 83,384.3 87,365.2 91,345.3 95,335.2 99,326 103,315.4 107,314.4 111,310.8 115,307.8 119,311.7 123,295.1 127,275.3 131,255.4 135,229.7 139,213.1 143,194.2 147,180.2 151,173.8 155,171.9 159,171.2 163,172.6 167,174.2 171,179.5 175,177 179,175.2 183,175.9 187,175.8 191,176.3 195,174.5 199,170.2 203,167.6 207,167.3 211,160.2 215,150.9 219,141.7 223,133.8 227,123.9 231,113.4 235,104.6 239,102.7 243,100.2 247,97.2 251,95.2 255,97.5 259,99.8 263,105.8 267,104.3 271,106.7 275,110 279,112.3 283,115.5 287,115.7 291,111.8 295,115.1 299,114.6 303,114.6 307,113.6 311,111.7 315,110.5 319,110.4 323,110.5 327,113.1 331,115.6 335,116.7 339,121.2 343,127.3 347,133.9 351,138.5 355,144.3 359,149.4 363,155.4 367,159.6 371,163.7 375,166.2 379,164.3 383,158 387,153.5 391,152.5 395,148.4 399,143.5 403,137.5 407,132.9 411,132.8 415,129.6 419,124.6 423,121.5 427,119.6 431,120.1 435,122.2 439,122.7 443,124.6 447,123.3 451,123.3 455,123 459,118.6 463,117.6 467,115.6 471,116.9 475,119.3 479,120.2 483,121.1 487,128.1 491,132.2 495,135.1 499,132.4 503,133.6 507,133.7 511,135.4 515,133.9 519,131 523,130.5 527,133.9 531,132.8 535,131.2 539,129 543,127.2 547,126.2 551,125.4 555,124.8 559,125.5 563,126.7 567,123.1 571,116.5 575,110 579,105.4 583,98.9 587,90.7 591,83.2 595,78.2 599,80.8 603,83.3 607,82.6 611,87.3 615,94.8 619,101.8 623,111 627,116.2 631,121.6 635,127.6 639,128.8 643,129.2 647,129.2 651,126.7 655,125.1 659,123.3 663,121.2 667,119.1 671,117.8 675,116.6 679,117.5 683,116.2 687,115 691,115.2 695,114 699,113 703,113.8 707,113.1 711,114 715,114.8 719,114.5 723,116.1 727,116.3 731,114.1 735,112.9 739,121.2 743,130.7 747,142.6 751,149.9 755,158.9 759,168.2 763,179.3 767,182.9 771,185.9 775,194.4 779,212.1 783,227.3 787,243 791,257.2 795,267.5 799,278.1 803,274.9 807,267.9 811,263.8 815,261.7 819,256.4 823,249.8 827,244.6 831,245.9 835,245.4 839,243.7 843,237.7 847,235.8 851,237.1 855,236.2 859,232.7 863,229.1 867,225 871,224.2 875,224.3 879,223.4 883,221.3 887,221.5 891,224.1 895,228.4 899,232 903,232.6 907,235.3 911,239.6 915,242.9 919,245.5 923,245.7 927,246.7 931,249 935,259.7 939,268.5 943,278.6 947,280.4 951,285.5 955,290 959,290.6 963,277.8 967,266.7 971,253.5 975,245.7 979,238.1 983,228.7 987,220.5 991,217.3 995,215.4 999,215.2 1003,216.9 1007,219.6 1011,222.9 1015,228.1 1019,232.7 1023,236.5 1027,239.7 1031,240.5 1035,237.6 1039,235.9 1043,229.6 1047,223 1051,216.3 1055,211.6 1059,209.4 1063,207.6 1067,205.3 1071,208.1 1075,210.3 1079,212.4 1083,211.2 1087,208.8 1091,207 1095,205.7 1099,205 1103,204.6 1107,204.3 1111,210.8 1115,217.5 1119,224.4 1123,233.8 1127,240.3 1131,246.7 1135,252 1139,251.2 1143,250 1147,249.6 1151,244.6 1155,240.3 1159,236.3 1163,233.8 1167,233.6 1171,234.6 1175,234.2 1179,235.9 1183,239.3 1187,241.4 1191,243.5 1195,243 1199,241.6 1203,240.3 1207,238.3 1211,235.2 1215,232.3 1219,230.3 1223,229.7 1227,231 1231,231.7 1235,232.4 1239,234.2 1243,235.5 1247,234.6 1251,233.6 1255,234 1259,235 1263,236.4 1267,237 1271,236.8 1275,236.6 1279,236.6 1283,234.8 1287,233.5 1291,231.6 1295,229.3 1299,228.3 1303,228.5 1307,228.6 1311,228.3 1315,227.6 1319,225.9 1323,225.1 1327,224.6 1331,224.4 1335,224.3 1339,225.5 1343,228 1347,231.2 1351,234.6 1355,237.8" stroke="#0000ff"/></g><g shape-rendering="crispEdges"><rect x="3" y="50" width="1416" height="3" fill="#ff0000"/><rect x="2" y="51" width="1" height="1" fill="#ff0000"/><rect x="3" y="181" width="1416" height="3" fill="#00ff00"/><rect x="2" y="182" width="1" height="1" fill="#00ff00"/><rect x="3" y="358" width="1416" height="3" fill="#0000ff"/><rect x="2" y="359" width="1" height="1" fill="#0000ff"/><rect x="3" y="497" width="1416" height="3" fill="#0000ff"/><rect x="2" y="498" width="1" height="1" fill="#0000ff"/></g><rect x="1418" y="243" width="1" height="1" fill="#c0c0c0"/><polygon points="1129,24 1138,24 1133.5,28.5" fill="#c0c0c0"/><g clip-path="url(#cd)" shape-rendering="crispEdges"><g fill="#c0c0c0"><rect x="3" y="626" width="1" height="2"/><rect x="7" y="618" width="1" height="10"/><rect x="11" y="615" width="1" height="13"/><rect x="15" y="612" width="1" height="16"/><rect x="19" y="610" width="1" height="18"/><rect x="23" y="611" width="1" height="17"/><rect x="27" y="609" width="1" height="19"/><rect x="31" y="606" width="1" height="22"/><rect x="35" y="607" width="1" height="21"/><rect x="39" y="607" width="1" height="21"/><rect x="43" y="605" width="1" height="23"/><rect x="47" y="604" width="1" height="24"/><rect x="51" y="604" width="1" height="24"/><rect x="55" y="605" width="1" height="23"/><rect x="59" y="607" width="1" height="21"/><rect x="63" y="606" width="1" height="22"/><rect x="67" y="605" width="1" height="23"/><rect x="71" y="604" width="1" height="24"/><rect x="75" y="605" width="1" height="23"/><rect x="79" y="602" width="1" height="26"/><rect x="83" y="598" width="1" height="30"/><rect x="87" y="594" width="1" height="34"/><rect x="91" y="590" width="1" height="38"/><rect x="95" y="591" width="1" height="37"/><rect x="99" y="591" width="1" height="37"/><rect x="103" y="592" width="1" height="36"/><rect x="107" y="595" width="1" height="33"/><rect x="111" y="593" width="1" height="35"/><rect x="115" y="592" width="1" height="36"/><rect x="119" y="593" width="1" height="35"/><rect x="123" y="589" width="1" height="39"/><rect x="127" y="584" width="1" height="44"/><rect x="131" y="581" width="1" height="47"/><rect x="135" y="578" width="1" height="50"/><rect x="139" y="576" width="1" height="52"/><rect x="143" y="574" width="1" height="54"/><rect x="147" y="577" width="1" height="51"/><rect x="151" y="577" width="1" height="51"/><rect x="155" y="578" width="1" height="50"/><rect x="159" y="580" width="1" height="48"/><rect x="163" y="582" width="1" height="46"/><rect x="167" y="584" width="1" height="44"/><rect x="171" y="587" width="1" height="41"/><rect x="175" y="589" width="1" height="39"/><rect x="179" y="590" width="1" height="38"/><rect x="183" y="592" width="1" height="36"/><rect x="187" y="594" width="1" height="34"/><rect x="191" y="596" width="1" height="32"/><rect x="195" y="598" width="1" height="30"/><rect x="199" y="598" width="1" height="30"/><rect x="203" y="600" width="1" height="28"/><rect x="207" y="601" width="1" height="27"/><rect x="211" y="600" width="1" height="28"/><rect x="215" y="599" width="1" height="29"/><rect x="219" y="598" width="1" height="30"/><rect x="223" y="598" width="1" height="30"/><rect x="227" y="597" width="1" height="31"/><rect x="231" y="597" width="1" height="31"/><rect x="235" y="597" width="1" height="31"/><rect x="239" y="598" width="1" height="30"/><rect x="243" y="599" width="1" height="29"/><rect x="247" y="600" width="1" height="28"/><rect x="251" y="601" width="1" height="27"/><rect x="255" y="602" width="1" height="26"/><rect x="259" y="604" width="1" height="24"/><rect x="263" y="608" width="1" height="20"/><rect x="267" y="608" width="1" height="20"/><rect x="271" y="610" width="1" height="18"/><rect x="275" y="611" width="1" height="17"/><rect x="279" y="613" width="1" height="15"/><rect x="283" y="615" width="1" height="13"/><rect x="287" y="616" width="1" height="12"/><rect x="291" y="616" width="1" height="12"/><rect x="295" y="618" width="1" height="10"/><rect x="299" y="618" width="1" height="10"/><rect x="303" y="619" width="1" height="9"/><rect x="307" y="619" width="1" height="9"/><rect x="311" y="620" width="1" height="8"/><rect x="315" y="620" width="1" height="8"/><rect x="319" y="620" width="1" height="8"/><rect x="323" y="622" width="1" height="6"/><rect x="327" y="623" width="1" height="5"/><rect x="331" y="625" width="1" height="3"/><rect x="335" y="625" width="1" height="3"/><rect x="339" y="627" width="1" height="1"/><rect x="347" y="628" width="1" height="2"/><rect x="351" y="628" width="1" height="4"/><rect x="355" y="628" width="1" height="6"/><rect x="359" y="628" width="1" height="7"/><rect x="363" y="628" width="1" height="7"/><rect x="367" y="628" width="1" height="8"/><rect x="371" y="628" width="1" height="9"/><rect x="375" y="628" width="1" height="10"/><rect x="379" y="628" width="1" height="8"/><rect x="383" y="628" width="1" height="6"/><rect x="387" y="628" width="1" height="5"/><rect x="391" y="628" width="1" height="5"/><rect x="395" y="628" width="1" height="4"/><rect x="399" y="628" width="1" height="3"/><rect x="403" y="628" width="1" height="2"/><rect x="411" y="627" width="1" height="1"/><rect x="415" y="626" width="1" height="2"/><rect x="419" y="625" width="1" height="3"/><rect x="423" y="625" width="1" height="3"/><rect x="427" y="625" width="1" height="3"/><rect x="431" y="625" width="1" height="3"/><rect x="435" y="625" width="1" height="3"/><rect x="439" y="626" width="1" height="2"/><rect x="443" y="626" width="1" height="2"/><rect x="447" y="625" width="1" height="3"/><rect x="451" y="625" width="1" height="3"/><rect x="455" y="625" width="1" height="3"/><rect x="459" y="624" width="1" height="4"/><rect x="463" y="624" width="1" height="4"/><rect x="467" y="624" width="1" height="4"/><rect x="471" y="625" width="1" height="3"/><rect x="475" y="626" width="1" height="2"/><rect x="479" y="626" width="1" height="2"/><rect x="483" y="627" width="1" height="1"/><rect x="491" y="628" width="1" height="2"/><rect x="495" y="628" width="1" height="2"/><rect x="499" y="628" width="1" height="1"/><rect x="503" y="628" width="1" height="1"/><rect x="507" y="628" width="1" height="1"/><rect x="511" y="628" width="1" height="2"/><rect x="515" y="628" width="1" height="2"/><rect x="519" y="628" width="1" height="2"/><rect x="523" y="628" width="1" height="1"/><rect x="527" y="628" width="1" height="2"/><rect x="531" y="628" width="1" height="1"/><rect x="567" y="626" width="1" height="2"/><rect x="571" y="624" width="1" height="4"/><rect x="575" y="622" width="1" height="6"/><rect x="579" y="621" width="1" height="7"/><rect x="583" y="621" width="1" height="7"/><rect x="587" y="619" width="1" height="9"/><rect x="591" y="618" width="1" height="10"/><rect x="595" y="617" width="1" height="11"/><rect x="599" y="618" width="1" height="10"/><rect x="603" y="619" width="1" height="9"/><rect x="607" y="619" width="1" height="9"/><rect x="611" y="622" width="1" height="6"/><rect x="615" y="624" width="1" height="4"/><rect x="619" y="626" width="1" height="2"/><rect x="627" y="628" width="1" height="1"/><rect x="631" y="628" width="1" height="2"/><rect x="635" y="628" width="1" height="3"/><rect x="639" y="628" width="1" height="4"/><rect x="643" y="628" width="1" height="4"/><rect x="647" y="628" width="1" height="4"/><rect x="651" y="628" width="1" height="3"/><rect x="655" y="628" width="1" height="3"/><rect x="659" y="628" width="1" height="3"/><rect x="663" y="628" width="1" height="2"/><rect x="667" y="628" width="1" height="2"/><rect x="671" y="628" width="1" height="2"/><rect x="675" y="628" width="1" height="2"/><rect x="679" y="628" width="1" height="2"/><rect x="683" y="628" width="1" height="1"/><rect x="687" y="628" width="1" height="1"/><rect x="691" y="628" width="1" height="1"/><rect x="711" y="628" width="1" height="1"/><rect x="715" y="628" width="1" height="1"/><rect x="723" y="628" width="1" height="1"/><rect x="727" y="628" width="1" height="1"/><rect x="735" y="627" width="1" height="1"/><rect x="739" y="628" width="1" height="3"/><rect x="743" y="628" width="1" height="7"/><rect x="747" y="628" width="1" height="10"/><rect x="751" y="628" width="1" height="12"/><rect x="755" y="628" width="1" height="13"/><rect x="759" y="628" width="1" height="13"/><rect x="763" y="628" width="1" height="14"/><rect x="767" y="628" width="1" height="15"/><rect x="771" y="628" width="1" height="17"/><rect x="775" y="628" width="1" height="21"/><rect x="779" y="628" width="1" height="26"/><rect x="783" y="628" width="1" height="29"/><rect x="787" y="628" width="1" height="31"/><rect x="791" y="628" width="1" height="32"/><rect x="795" y="628" width="1" height="33"/><rect x="799" y="628" width="1" height="33"/><rect x="803" y="628" width="1" height="30"/><rect x="807" y="628" width="1" height="28"/><rect x="811" y="628" width="1" height="26"/><rect x="815" y="628" width="1" height="25"/><rect x="819" y="628" width="1" height="23"/><rect x="823" y="628" width="1" height="20"/><rect x="827" y="628" width="1" height="19"/><rect x="831" y="628" width="1" height="17"/><rect x="835" y="628" width="1" height="16"/><rect x="839" y="628" width="1" height="15"/><rect x="843" y="628" width="1" height="12"/><rect x="847" y="628" width="1" height="11"/><rect x="851" y="628" width="1" height="10"/><rect x="855" y="628" width="1" height="9"/><rect x="859" y="628" width="1" height="7"/><rect x="863" y="628" width="1" height="6"/><rect x="867" y="628" width="1" height="4"/><rect x="871" y="628" width="1" height="3"/><rect x="875" y="628" width="1" height="3"/><rect x="879" y="628" width="1" height="3"/><rect x="883" y="628" width="1" height="2"/><rect x="887" y="628" width="1" height="2"/><rect x="891" y="628" width="1" height="2"/><rect x="895" y="628" width="1" height="3"/><rect x="899" y="628" width="1" height="4"/><rect x="903" y="628" width="1" height="4"/><rect x="907" y="628" width="1" height="5"/><rect x="911" y="628" width="1" height="5"/><rect x="915" y="628" width="1" height="5"/><rect x="919" y="628" width="1" height="6"/><rect x="923" y="628" width="1" height="6"/><rect x="927" y="628" width="1" height="6"/><rect x="931" y="628" width="1" height="6"/><rect x="935" y="628" width="1" height="11"/><rect x="939" y="628" width="1" height="13"/><rect x="943" y="628" width="1" height="15"/><rect x="947" y="628" width="1" height="14"/><rect x="951" y="628" width="1" height="13"/><rect x="955" y="628" width="1" height="13"/><rect x="959" y="628" width="1" height="11"/><rect x="963" y="628" width="1" height="8"/><rect x="967" y="628" width="1" height="5"/><rect x="971" y="628" width="1" height="3"/><rect x="979" y="626" width="1" height="2"/><rect x="983" y="625" width="1" height="3"/><rect x="987" y="623" width="1" height="5"/><rect x="991" y="622" width="1" height="6"/><rect x="995" y="621" width="1" height="7"/><rect x="999" y="622" width="1" height="6"/><rect x="1003" y="622" width="1" height="6"/><rect x="1007" y="623" width="1" height="5"/><rect x="1011" y="624" width="1" height="4"/><rect x="1015" y="625" width="1" height="3"/><rect x="1019" y="626" width="1" height="2"/><rect x="1023" y="627" width="1" height="1"/><rect x="1031" y="627" width="1" height="1"/><rect x="1035" y="627" width="1" height="1"/><rect x="1039" y="626" width="1" height="2"/><rect x="1043" y="624" width="1" height="4"/><rect x="1047" y="622" width="1" height="6"/><rect x="1051" y="621" width="1" height="7"/><rect x="1055" y="622" width="1" height="6"/><rect x="1059" y="622" width="1" height="6"/><rect x="1063" y="622" width="1" height="6"/><rect x="1067" y="622" width="1" height="6"/><rect x="1071" y="622" width="1" height="6"/><rect x="1075" y="623" width="1" height="5"/><rect x="1079" y="623" width="1" height="5"/><rect x="1083" y="623" width="1" height="5"/><rect x="1087" y="622" width="1" height="6"/><rect x="1091" y="622" width="1" height="6"/><rect x="1095" y="622" width="1" height="6"/><rect x="1099" y="623" width="1" height="5"/><rect x="1103" y="623" width="1" height="5"/><rect x="1107" y="624" width="1" height="4"/><rect x="1111" y="627" width="1" height="1"/><rect x="1115" y="628" width="1" height="1"/><rect x="1119" y="628" width="1" height="2"/><rect x="1123" y="628" width="1" height="5"/><rect x="1127" y="628" width="1" height="6"/><rect x="1131" y="628" width="1" height="7"/><rect x="1135" y="628" width="1" height="7"/><rect x="1139" y="628" width="1" height="7"/><rect x="1143" y="628" width="1" height="6"/><rect x="1147" y="628" width="1" height="6"/><rect x="1151" y="628" width="1" height="5"/><rect x="1155" y="628" width="1" height="4"/><rect x="1159" y="628" width="1" height="3"/><rect x="1163" y="628" width="1" height="3"/><rect x="1167" y="628" width="1" height="3"/><rect x="1171" y="628" width="1" height="3"/><rect x="1175" y="628" width="1" height="3"/><rect x="1179" y="628" width="1" height="3"/><rect x="1183" y="628" width="1" height="4"/><rect x="1187" y="628" width="1" height="4"/><rect x="1191" y="628" width="1" height="4"/><rect x="1195" y="628" width="1" height="3"/><rect x="1199" y="628" width="1" height="3"/><rect x="1203" y="628" width="1" height="2"/><rect x="1207" y="628" width="1" height="1"/><rect x="1211" y="628" width="1" height="1"/><rect x="1227" y="628" width="1" height="1"/><rect x="1231" y="628" width="1" height="1"/><rect x="1235" y="628" width="1" height="1"/><rect x="1239" y="628" width="1" height="1"/><rect x="1243" y="628" width="1" height="1"/><rect x="1255" y="628" width="1" height="1"/><rect x="1259" y="628" width="1" height="1"/><rect x="1263" y="628" width="1" height="2"/><rect x="1267" y="628" width="1" height="2"/><rect x="1271" y="628" width="1" height="1"/><rect x="1299" y="627" width="1" height="1"/><rect x="1303" y="627" width="1" height="1"/><rect x="1307" y="627" width="1" height="1"/><rect x="1311" y="627" width="1" height="1"/><rect x="1315" y="627" width="1" height="1"/><rect x="1319" y="627" width="1" height="1"/><rect x="1323" y="626" width="1" height="2"/><rect x="1327" y="626" width="1" height="2"/><rect x="1331" y="626" width="1" height="2"/><rect x="1335" y="626" width="1" height="2"/><rect x="1339" y="627" width="1" height="1"/><rect x="1343" y="628" width="1" height="1"/><rect x="1347" y="628" width="1" height="1"/><rect x="1351" y="628" width="1" height="2"/><rect x="1355" y="628" width="1" height="2"/></g><polyline points="3,625.9 7,624.9 11,623.4 15,621.8 19,620.1 23,618.5 27,616.7 31,614.7 35,612.6 39,610.5 43,609.1 47,607.9 51,607.1 55,606.5 59,606.1 63,605.8 67,605.7 71,605.4 75,605.1 79,604.7 83,604 87,602.9 91,601.2 95,599.5 99,597.8 103,596.4 107,595.3 111,594 115,593 119,592.5 123,591.9 127,591.3 131,590.2 135,588.7 139,586.9 143,584.7 147,582.9 151,581.2 155,579.5 159,578.5 163,578.3 167,578.6 171,579.6 175,581 179,582.7 183,584.4 187,586.3 191,588.3 195,590.2 199,592.1 203,593.9 207,595.4 211,596.6 215,597.6 219,598.3 223,598.8 227,598.9 231,598.8 235,598.6 239,598.4 243,598.2 247,598.2 251,598.4 255,598.8 259,599.5 263,600.7 267,601.9 271,603.4 275,604.9 279,606.4 283,608.1 287,609.7 291,611.2 295,612.7 299,613.9 303,615.1 307,616.1 311,617.1 315,617.9 319,618.5 323,619.1 327,619.9 331,620.7 335,621.4 339,622.3 343,623.3 347,624.4 351,625.7 355,627.1 359,628.6 363,629.9 367,631.3 371,632.7 375,633.9 379,634.8 383,635.2 387,635.4 391,635.2 395,634.9 399,634.5 403,633.7 407,632.7 411,631.5 415,630.3 419,629.3 423,628.4 427,627.6 431,626.8 435,626.2 439,625.7 443,625.4 447,625.2 451,625 455,625 459,624.9 463,624.8 467,624.7 471,624.7 475,624.7 479,624.8 483,625 487,625.4 491,625.9 495,626.6 499,627.2 503,627.7 507,628.1 511,628.6 515,629 519,629.3 523,629.4 527,629.4 531,629.4 535,629.3 539,629.2 543,629.1 547,628.9 551,628.6 555,628.5 559,628.3 563,628.1 567,627.8 571,627.3 575,626.6 579,625.8 583,625 587,624.1 591,623 595,621.8 599,620.7 603,619.8 607,619.4 611,619.4 615,619.8 619,620.4 623,621.3 627,622.6 631,624.1 635,625.5 639,626.9 643,628.3 647,629.4 651,630.2 655,630.8 659,631.1 663,631.3 667,631.2 671,631.1 675,630.8 679,630.5 683,630.2 687,629.9 691,629.7 695,629.4 699,629.1 703,628.9 707,628.7 711,628.6 715,628.5 719,628.4 723,628.4 727,628.4 731,628.4 735,628.3 739,628.6 743,629.3 747,630.4 751,631.7 755,633 759,634.3 763,635.8 767,637.5 771,639.4 775,641.4 779,643.5 783,645.6 787,647.8 791,650 795,652.2 799,654.3 803,655.9 807,657.1 811,657.7 815,657.6 819,657 823,655.8 827,654.3 831,652.6 835,650.8 839,649.1 843,647.4 847,645.8 851,644.1 855,642.5 859,641 863,639.6 867,638.1 871,636.7 875,635.4 879,634.4 883,633.4 887,632.5 891,631.7 895,631.3 899,631 903,631 907,631.2 911,631.4 915,631.6 919,632 923,632.4 927,632.8 931,633.1 935,633.8 939,634.9 943,636 947,637 951,637.9 955,638.7 959,639.3 963,639.5 967,639.4 971,638.6 975,637.1 979,635.2 983,633.3 987,631.3 991,629.1 995,627.2 999,625.6 1003,624.3 1007,623.5 1011,623.1 1015,623 1019,623.1 1023,623.6 1027,624.2 1031,624.8 1035,625.4 1039,625.9 1043,625.9 1047,625.7 1051,625.3 1055,624.8 1059,624.3 1063,623.7 1067,623.1 1071,622.6 1075,622.3 1079,622.2 1083,622.2 1087,622.3 1091,622.4 1095,622.4 1099,622.5 1103,622.6 1107,622.7 1111,623.2 1115,623.8 1119,624.6 1123,625.8 1127,627.1 1131,628.5 1135,629.9 1139,631.2 1143,632.4 1147,633.2 1151,633.7 1155,633.9 1159,633.7 1163,633.3 1167,632.9 1171,632.5 1175,632.1 1179,631.8 1183,631.5 1187,631.4 1191,631.4 1195,631.4 1199,631.4 1203,631.3 1207,631.1 1211,630.8 1215,630.5 1219,630 1223,629.6 1227,629.2 1231,628.9 1235,628.7 1239,628.5 1243,628.4 1247,628.4 1251,628.3 1255,628.4 1259,628.5 1263,628.6 1267,628.8 1271,628.8 1275,628.8 1279,628.7 1283,628.7 1287,628.7 1291,628.7 1295,628.5 1299,628.2 1303,627.9 1307,627.6 1311,627.4 1315,627.4 1319,627.2 1323,627 1327,626.8 1331,626.6 1335,626.5 1339,626.6 1343,626.8 1347,627 1351,627.3 1355,627.8" fill="none" stroke="#ff0000" stroke-dasharray="3,3"/></g><g clip-path="url(#cr)" shape-rendering="crispEdges"><line x1="3" y1="709.5" x2="1418" y2="709.5" stroke="#c0c0c0" stroke-dasharray="3,3"/><line x1="3" y1="760.5" x2="1418" y2="760.5" stroke="#c0c0c0" stroke-dasharray="3,3"/><polyline points="3,737.1 7,697.3 11,713.3 15,712 19,715.4 23,724.1 27,715.9 31,712.9 35,724.1 39,721.2 43,716.2 47,715.9 51,718.6 55,722.8 59,723.8 63,718.5 67,715.5 71,713.1 75,718.3 79,708.7 83,704 87,702.9 91,699.5 95,716.5 99,715.6 103,717 107,721 111,712.3 115,711.6 119,717.6 123,705.8 127,703 131,704.2 135,701.6 139,704.3 143,702.2 147,716.9 151,712.1 155,713.1 159,716.2 163,714.6 167,717.4 171,719 175,719 179,713.3 183,719.9 187,721.6 191,720.3 195,719 199,716.7 203,720.9 207,717.1 211,712.3 215,710.5 219,709.5 223,710.8 227,706.1 231,709.8 235,708.6 239,718 243,715.1 247,712.9 251,717.5 255,718.8 259,722.7 263,730.6 267,721.8 271,727.2 275,726.1 279,727.5 283,731.2 287,727.2 291,724.5 295,732.5 299,728.3 303,728.1 307,727.1 311,728.8 315,725.9 319,725.6 323,735.8 327,738.1 331,737.4 335,731.3 339,743 343,744.1 347,745.3 351,748.2 355,753.1 359,749.4 363,745.4 367,750.9 371,751.7 375,747.1 379,735 383,727.5 387,730.8 391,738.5 395,735.1 399,734.1 403,727.2 407,722.3 411,729.2 415,723.8 419,726.5 423,729.1 427,731.7 431,732.5 435,731.4 439,732.7 443,730.5 447,722.1 451,730.6 455,732.3 459,720.6 463,731.6 467,729.6 471,738.2 475,733.9 479,735.5 483,736.9 487,743.8 491,744.1 495,737.1 499,728.6 503,736.2 507,734.6 511,740.4 515,737.5 519,733.5 523,735.4 527,739 531,731.8 535,728.5 539,733.5 543,732.1 547,730.6 551,733.2 555,738.5 559,735 563,732.9 567,721.5 571,713.2 575,712.5 579,723 583,721.8 587,715.3 591,716.2 595,713.9 599,730.4 603,729.1 607,726.9 611,742.1 615,742.4 619,741.6 623,745 627,745.6 631,744.7 635,744.2 639,744.9 643,741.8 647,738.7 651,732.8 655,737.6 659,736.1 663,734 667,735 671,735.5 675,732.7 679,737.1 683,730.9 687,729.8 691,735.7 695,729.1 699,731.1 703,738 707,734.2 711,736.7 715,734.7 719,734 723,738.8 727,731.8 731,725 735,727.3 739,763.2 743,765 747,768.7 751,752.3 755,753.5 759,750 763,754.7 767,759.5 771,760.3 775,771.2 779,776.1 783,769.2 787,768.2 791,768.8 795,763.2 799,764.2 803,745.1 807,748.2 811,749.8 815,752.9 819,744.9 823,737.9 827,742.1 831,743.2 835,742.9 839,741.6 843,734.6 847,738 851,739.2 855,738.7 859,732.1 863,731.8 867,728.8 871,732 875,739.1 879,737.2 883,732.3 887,733.1 891,740.9 895,742.9 899,743.6 903,739.9 907,745.4 911,745.8 915,742.2 919,747.8 923,739.7 927,743.1 931,745 935,766.4 939,759.3 943,760.3 947,739.6 951,742.6 955,743.5 959,735 963,727.5 967,727 971,724.3 975,721.4 979,726.3 983,723.4 987,719.2 991,723.9 995,727.2 999,728.2 1003,729.6 1007,737.7 1011,735.4 1015,734.8 1019,737.8 1023,738.9 1027,737.6 1031,730.7 1035,727.8 1039,729.2 1043,715.9 1047,719 1051,719.5 1055,726.7 1059,728.8 1063,727 1067,726.3 1071,728.2 1075,728.8 1079,728.8 1083,722.6 1087,720.1 1091,720.8 1095,722.2 1099,728.2 1103,731.4 1107,731.4 1111,753.9 1115,751.4 1119,752.5 1123,760.4 1127,750.4 1131,751.5 1135,745.9 1139,741.9 1143,738.4 1147,742.4 1151,734 1155,729.6 1159,732.5 1163,734.2 1167,740.6 1171,742.4 1175,740 1179,741.2 1183,744.2 1187,740.3 1191,741.7 1195,735.7 1199,733.2 1203,730.8 1207,729.3 1211,726.3 1215,723.8 1219,732.2 1223,734 1227,743 1231,736.2 1235,735 1239,737.8 1243,731.9 1247,726.5 1251,727.9 1255,744.1 1259,742 1263,742.4 1267,740.5 1271,730.3 1275,725.1 1279,727.7 1283,734 1287,734.9 1291,732.4 1295,727.6 1299,726 1303,726.7 1307,729.8 1311,733.9 1315,731.9 1319,723 1323,723.6 1327,724.8 1331,727.3 1335,731.6 1339,745.5 1343,751.5 1347,744.8 1351,747.1 1355,745.8" fill="none" stroke="#1e90ff"/></g><polygon points="3,793.5 3,799 8.5,799" fill="#bcbcbc"/><g fill="#000" shape-rendering="crispEdges"><rect x="1419" y="565" width="3" height="1"/><rect x="1419" y="628" width="3" height="1"/><rect x="1419" y="666" width="3" height="1"/><rect x="1419" y="670" width="3" height="1"/><rect x="1419" y="799" width="3" height="1"/></g><g font-size="10" fill="#000" stroke="#000" stroke-width="0.2" style="font-family:'Liberation Sans',Arial,sans-serif"><text transform="matrix(0.94,0,0,1,1423.5,35)">6.96935</text><text transform="matrix(0.94,0,0,1,1423.5,68)">6.95450</text><text transform="matrix(0.94,0,0,1,1423.5,101)">6.93965</text><text transform="matrix(0.94,0,0,1,1423.5,134)">6.92480</text><text transform="matrix(0.94,0,0,1,1423.5,168)">6.90950</text><text transform="matrix(0.94,0,0,1,1423.5,200)">6.89465</text><text transform="matrix(0.94,0,0,1,1423.5,233)">6.87980</text><text transform="matrix(0.94,0,0,1,1423.5,266)">6.86495</text><text transform="matrix(0.94,0,0,1,1423.5,299)">6.85010</text><text transform="matrix(0.94,0,0,1,1423.5,331)">6.83525</text><text transform="matrix(0.94,0,0,1,1423.5,364)">6.82040</text><text transform="matrix(0.94,0,0,1,1423.5,398)">6.80510</text><text transform="matrix(0.94,0,0,1,1423.5,431)">6.79025</text><text transform="matrix(0.94,0,0,1,1423.5,464)">6.77540</text><text transform="matrix(0.94,0,0,1,1423.5,496)">6.76055</text><text transform="matrix(0.94,0,0,1,1423.5,529)">6.74570</text><text transform="matrix(0.94,0,0,1,1423.5,562)">6.73085</text></g><g fill="#000" shape-rendering="crispEdges"><rect x="1419" y="31" width="2" height="1"/><rect x="1419" y="64" width="2" height="1"/><rect x="1419" y="97" width="2" height="1"/><rect x="1419" y="130" width="2" height="1"/><rect x="1419" y="164" width="2" height="1"/><rect x="1419" y="196" width="2" height="1"/><rect x="1419" y="229" width="2" height="1"/><rect x="1419" y="262" width="2" height="1"/><rect x="1419" y="295" width="2" height="1"/><rect x="1419" y="327" width="2" height="1"/><rect x="1419" y="360" width="2" height="1"/><rect x="1419" y="394" width="2" height="1"/><rect x="1419" y="427" width="2" height="1"/><rect x="1419" y="460" width="2" height="1"/><rect x="1419" y="492" width="2" height="1"/><rect x="1419" y="525" width="2" height="1"/><rect x="1419" y="558" width="2" height="1"/></g><rect x="1420" y="45" width="40" height="11" fill="#ff0000" shape-rendering="crispEdges"/><g font-size="10" fill="#fff" style="font-family:'Liberation Sans',Arial,sans-serif"><text transform="matrix(0.94,0,0,1,1423.5,53.5)">6.96044</text></g><rect x="1420" y="176" width="40" height="11" fill="#00ff00" shape-rendering="crispEdges"/><g font-size="10" fill="#fff" style="font-family:'Liberation Sans',Arial,sans-serif"><text transform="matrix(0.94,0,0,1,1423.5,184.5)">6.90100</text></g><rect x="1420" y="238" width="40" height="11" fill="#000000" shape-rendering="crispEdges"/><g font-size="10" fill="#fff" style="font-family:'Liberation Sans',Arial,sans-serif"><text transform="matrix(0.94,0,0,1,1423.5,246.5)">6.87370</text></g><rect x="1420" y="353" width="40" height="11" fill="#0000ff" shape-rendering="crispEdges"/><g font-size="10" fill="#fff" style="font-family:'Liberation Sans',Arial,sans-serif"><text transform="matrix(0.94,0,0,1,1423.5,361.5)">6.82103</text></g><rect x="1420" y="492" width="40" height="11" fill="#0000ff" shape-rendering="crispEdges"/><g font-size="10" fill="#fff" style="font-family:'Liberation Sans',Arial,sans-serif"><text transform="matrix(0.94,0,0,1,1423.5,500.5)">6.75804</text></g><g font-size="10" fill="#000" stroke="#000" stroke-width="0.2" style="font-family:'Liberation Sans',Arial,sans-serif"><text transform="matrix(0.94,0,0,1,1422.5,575.5)">0.034174</text><text transform="matrix(0.94,0,0,1,1422.5,632.5)">0.00</text><text transform="matrix(0.94,0,0,1,1422.5,665.5)">-0.021298</text><text transform="matrix(0.94,0,0,1,1422.5,680.5)">100</text><text transform="matrix(0.94,0,0,1,1422.5,713.5)">70</text><text transform="matrix(0.94,0,0,1,1422.5,764.5)">30</text><text transform="matrix(0.94,0,0,1,1422.5,796.5)">0</text></g><g font-size="10" fill="#000" stroke="#000" stroke-width="0.2" style="font-family:'Liberation Sans',Arial,sans-serif"><text transform="matrix(0.965,0,0,1,1.8,812.5)">3 May 2019</text><text transform="matrix(0.965,0,0,1,65.8,812.5)">8 May 12:00</text><text transform="matrix(0.965,0,0,1,129.8,812.5)">13 May 08:00</text><text transform="matrix(0.965,0,0,1,193.8,812.5)">16 May 00:00</text><text transform="matrix(0.965,0,0,1,257.8,812.5)">20 May 20:00</text><text transform="matrix(0.965,0,0,1,321.8,812.5)">23 May 12:00</text><text transform="matrix(0.965,0,0,1,385.8,812.5)">28 May 08:00</text><text transform="matrix(0.965,0,0,1,449.8,812.5)">31 May 00:00</text><text transform="matrix(0.965,0,0,1,513.8,812.5)">4 Jun 20:00</text><text transform="matrix(0.965,0,0,1,577.8,812.5)">7 Jun 12:00</text><text transform="matrix(0.965,0,0,1,641.8,812.5)">12 Jun 08:00</text><text transform="matrix(0.965,0,0,1,705.8,812.5)">17 Jun 04:00</text><text transform="matrix(0.965,0,0,1,769.8,812.5)">19 Jun 20:00</text><text transform="matrix(0.965,0,0,1,833.8,812.5)">24 Jun 16:00</text><text transform="matrix(0.965,0,0,1,897.8,812.5)">27 Jun 08:00</text><text transform="matrix(0.965,0,0,1,961.8,812.5)">2 Jul 04:00</text><text transform="matrix(0.965,0,0,1,1025.8,812.5)">4 Jul 20:00</text><text transform="matrix(0.965,0,0,1,1089.8,812.5)">9 Jul 16:00</text><text transform="matrix(0.965,0,0,1,1153.8,812.5)">12 Jul 08:00</text><text transform="matrix(0.965,0,0,1,1217.8,812.5)">17 Jul 04:00</text><text transform="matrix(0.965,0,0,1,1281.8,812.5)">22 Jul 00:00</text><text transform="matrix(0.965,0,0,1,1345.8,812.5)">24 Jul 16:00</text></g><g fill="#000" shape-rendering="crispEdges"><rect x="3" y="800" width="1" height="3"/><rect x="67" y="800" width="1" height="3"/><rect x="131" y="800" width="1" height="3"/><rect x="195" y="800" width="1" height="3"/><rect x="259" y="800" width="1" height="3"/><rect x="323" y="800" width="1" height="3"/><rect x="387" y="800" width="1" height="3"/><rect x="451" y="800" width="1" height="3"/><rect x="515" y="800" width="1" height="3"/><rect x="579" y="800" width="1" height="3"/><rect x="643" y="800" width="1" height="3"/><rect x="707" y="800" width="1" height="3"/><rect x="771" y="800" width="1" height="3"/><rect x="835" y="800" width="1" height="3"/><rect x="899" y="800" width="1" height="3"/><rect x="963" y="800" width="1" height="3"/><rect x="1027" y="800" width="1" height="3"/><rect x="1091" y="800" width="1" height="3"/><rect x="1155" y="800" width="1" height="3"/><rect x="1219" y="800" width="1" height="3"/><rect x="1283" y="800" width="1" height="3"/><rect x="1347" y="800" width="1" height="3"/></g><polygon points="6,34 13,34 9.5,30" fill="#000"/><g font-size="10" style="font-family:'Liberation Sans',Arial,sans-serif" fill="#000" stroke="#000" stroke-width="0.2"><text transform="matrix(0.96,0,0,1,18,35.5)">USDCNH-,H4</text><text transform="matrix(0.94,0,0,1,83,35.5)">6.87355</text><text transform="matrix(0.94,0,0,1,119,35.5)">6.87536</text><text transform="matrix(0.94,0,0,1,155,35.5)">6.87099</text><text transform="matrix(0.94,0,0,1,191,35.5)">6.87370</text><text transform="matrix(0.93,0,0,1,7,577)">MACD(12,26,9) -0.001076 0.000428</text><text transform="matrix(0.92,0,0,1,7,682)">RSI(14) 40.7879</text></g>
<defs>
<linearGradient id="gsell" x1="0" y1="43" x2="0" y2="107" gradientUnits="userSpaceOnUse">
<stop offset="0" stop-color="#f75a5a"/><stop offset="0.36" stop-color="#e43a3a"/>
<stop offset="0.38" stop-color="#df3030"/><stop offset="1" stop-color="#b00505"/>
</linearGradient>
<linearGradient id="gbtn" x1="0" y1="0" x2="0" y2="1">
<stop offset="0" stop-color="#f2f2f2"/><stop offset="0.45" stop-color="#e6e6e6"/><stop offset="0.5" stop-color="#d9d9d9"/><stop offset="1" stop-color="#d0d0d0"/>
</linearGradient>
</defs>
<g shape-rendering="crispEdges">
<rect x="4" y="43" width="223" height="64" fill="#fff"/>
<path d="M6.5,43.5H57.5V67.5H114.5V106.5H6.5Z" fill="url(#gsell)" stroke="#c00000"/>
<path d="M224.5,43.5H173.5V67.5H117.5V106.5H224.5Z" fill="url(#gsell)" stroke="#c00000"/>
<rect x="10" y="66" width="45" height="1" fill="#9c0000"/>
<rect x="10" y="67" width="45" height="1" fill="#ee6a6a"/>
<rect x="177" y="66" width="45" height="1" fill="#9c0000"/>
<rect x="177" y="67" width="45" height="1" fill="#ee6a6a"/>
<rect x="59.5" y="43.5" width="111" height="21" fill="#fff" stroke="#b4b4b4"/>
<rect x="60.5" y="44.5" width="109" height="19" fill="#fff" stroke="#dcdcdc"/>
<rect x="61" y="45" width="20" height="18" fill="url(#gbtn)"/>
<rect x="81" y="45" width="1" height="18" fill="#bcbcbc"/>
<rect x="150" y="45" width="20" height="18" fill="url(#gbtn)"/>
<rect x="149" y="45" width="1" height="18" fill="#bcbcbc"/>
</g>
<polygon points="67.5,52 74.5,52 71,55.5" fill="#4a5fc4"/>
<polygon points="156.5,55 163.5,55 160,51.5" fill="#4a5fc4"/>
<g font-family="'Liberation Sans',Arial,sans-serif" fill="#fff">
<text x="18.5" y="59" font-size="12.3" textLength="25.5" lengthAdjust="spacingAndGlyphs">SELL</text>
<text x="187" y="59" font-size="12.3" textLength="23" lengthAdjust="spacingAndGlyphs">BUY</text>
<text x="25.5" y="98" font-size="12" font-weight="bold">6.87</text>
<text x="54.5" y="98" font-size="34" textLength="33" lengthAdjust="spacingAndGlyphs">37</text>
<text x="92.5" y="82" font-size="11" font-weight="bold" textLength="7.5" lengthAdjust="spacingAndGlyphs">0</text>
<text x="135.5" y="98" font-size="12" font-weight="bold">6.87</text>
<text x="165" y="98" font-size="34" textLength="33" lengthAdjust="spacingAndGlyphs">59</text>
<text x="203.5" y="82" font-size="11" font-weight="bold" textLength="7.5" lengthAdjust="spacingAndGlyphs">2</text>
</g>
<text x="123" y="58" font-size="12.5" textLength="22.7" lengthAdjust="spacingAndGlyphs" font-family="'Liberation Sans',Arial,sans-serif" fill="#000">1.00</text>
</svg>
<div id="tb" class="abs"></div>
<div class="abs" style="left:0;top:0;width:1px;height:17px;background:#a0a0a0"></div>
<div class="abs" style="left:1px;top:0;width:24px;height:17px;background:repeating-conic-gradient(#f9f9f9 0 25%,#ececec 0 50%) 0 0/2px 2px"></div>
<div class="abs tf" style="left:5.2px">H4</div>
<div class="abs tf" style="left:34px">D1</div>
<div class="abs tf" style="left:61.8px">W1</div>
<div class="abs tf" style="left:88px">MN</div>
<div class="abs" style="left:111px;top:0;width:1px;height:18px;background:#a0a0a0"></div>
<div class="abs" style="left:112px;top:0;width:1px;height:18px;background:#fdfdfd"></div>
<div id="tbl1" class="abs"></div><div id="tbl2" class="abs"></div><div id="tbl3" class="abs"></div>

<div class="abs" style="left:0;top:820px;width:1460px;height:1px;background:#e3e3e3"></div>
<div id="tabbar" class="abs"></div>
<div class="abs" style="left:0;top:822px;width:1460px;height:1px;background:#000"></div>
<div class="abs" style="left:0;top:823px;width:1460px;height:1px;background:#fff"></div>
<div class="abs" style="left:0;top:842px;width:1460px;height:1px;background:#fff"></div>
<div class="abs" style="left:436px;top:822px;width:100px;height:19px;background:#fff;border:1px solid #000;border-top:none"></div>
<div class="abs tab" style="left:15px">EURUSD-,Daily</div>
<div class="abs sep" style="left:112px"></div>
<div class="abs tab" style="left:122px">AUDUSD-,Daily</div>
<div class="abs sep" style="left:220px"></div>
<div class="abs tab" style="left:232px">USDCHF-,Daily</div>
<div class="abs sep" style="left:328px"></div>
<div class="abs tab" style="left:340px">USDCAD-,Daily</div>
<div class="abs tab" style="left:448px;color:#000">USDCNH-,H4</div>
<div class="abs tab" style="left:547px">EURCHF-,Weekly</div>
<div class="abs sep" style="left:656px"></div>
<div class="abs tab" style="left:667px">XAUUSD-,Monthly</div>
<div class="abs sep" style="left:784px"></div>
<div class="abs tab" style="left:795px">GBPUSD-,H1</div>
<div class="abs sep" style="left:880px"></div>
<div class="abs tab" style="left:891px">UKOil-,H1</div>
<div class="abs sep" style="left:960px"></div>
<svg class="abs" style="left:1430px;top:826px" width="30" height="12" viewBox="0 0 30 12"><polygon points="7.3,1.8 7.3,8.6 3.8,5.2" fill="#8e8e8e"/><polygon points="23,1.8 23,8.6 26.5,5.2" fill="#8e8e8e"/></svg>
</body></html>
